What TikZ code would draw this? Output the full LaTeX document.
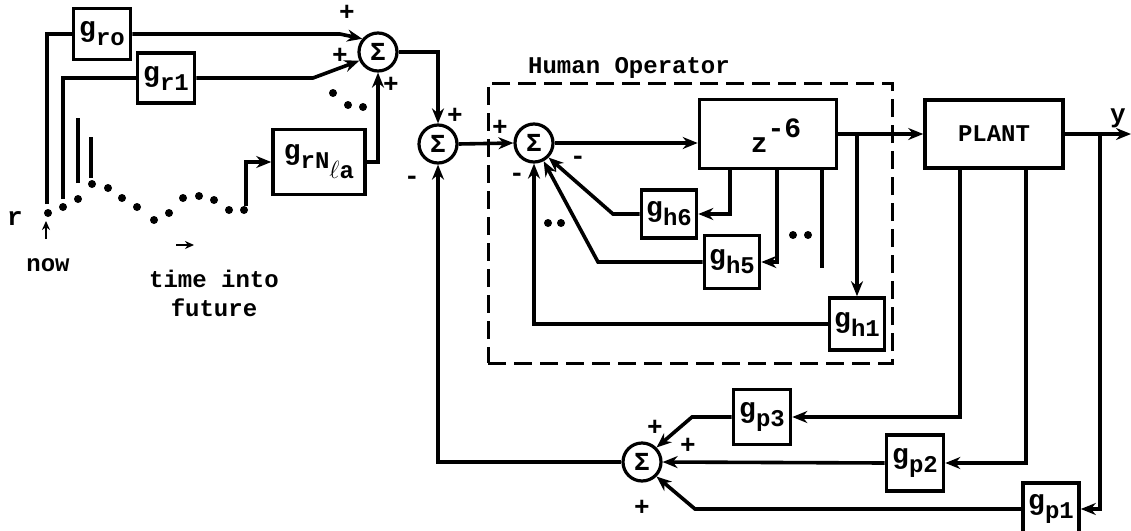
\documentclass[tikz,border=0pt]{standalone}
\usepackage{fontspec}
\setmainfont{Liberation Mono}
\usetikzlibrary{arrows.meta,calc}
\newcommand\gsub[1]{g\raisebox{-9pt}{\fontsize{24}{24}\selectfont #1}}
\begin{document}
\begin{tikzpicture}[x=1pt,y=-1pt,
  wire/.style={line width=3.6pt},
  arr/.style={wire,-{Stealth[length=15pt,width=12pt]}},
  thinarr/.style={line width=2.2pt,-{Stealth[length=9pt,width=8pt]}},
  blk/.style={draw,line width=3.6pt,inner sep=0pt,font=\fontsize{28}{28}\selectfont\bfseries},
  sumc/.style={draw,fill=white,circle,line width=3.2pt,minimum size=38pt,inner sep=0pt,font=\fontsize{26}{26}\selectfont\bfseries},
  txt/.style={font=\fontsize{24}{29}\selectfont\bfseries,inner sep=0pt,align=center},
  sgn/.style={font=\fontsize{26}{26}\selectfont\bfseries,inner sep=0pt},
  dot/.style={radius=4pt}
]
\useasboundingbox (0,0) rectangle (1131,530);

% human operator dashed frame
\node[draw,line width=3pt,dash pattern=on 18pt off 8pt,minimum width=404pt,minimum height=280pt,inner sep=0pt] (ho) at (690,223) {};
\node[txt] (holbl) at (629,68) {Human Operator};

% blocks
\node[blk,minimum width=57pt,minimum height=51pt] (gro) at (102,34) {\gsub{ro}};
\node[blk,minimum width=57pt,minimum height=50pt] (gr1) at (166,78) {\gsub{r1}};
\node[blk,minimum width=92pt,minimum height=65pt] (grN) at (319,162) {g\raisebox{-9pt}{\fontsize{24}{24}\selectfont rN\raisebox{-10pt}{$\ell$a}}};
\node[blk,minimum width=137pt,minimum height=69pt] (z) at (768,134) {};
\node[txt] (zlbl) at (776,136) {\fontsize{28}{28}\selectfont z\raisebox{15pt}{-6}};
\node[blk,minimum width=138pt,minimum height=68pt,font=\fontsize{24}{24}\selectfont\bfseries] (plant) at (994,134) {PLANT};
\node[blk,minimum width=55pt,minimum height=48pt] (gh6) at (669,214) {\gsub{h6}};
\node[blk,minimum width=55pt,minimum height=53pt] (gh5) at (732,262) {\gsub{h5}};
\node[blk,minimum width=55pt,minimum height=52pt] (gh1) at (857,324) {\gsub{h1}};
\node[blk,minimum width=57pt,minimum height=55pt] (gp3) at (762,417) {\gsub{p3}};
\node[blk,minimum width=57pt,minimum height=56pt] (gp2) at (915,463) {\gsub{p2}};
\node[blk,minimum width=56pt,minimum height=52pt] (gp1) at (1051,509) {\gsub{p1}};

% summing junctions
\node[sumc] (s1) at (378,52) {Σ};
\node[sumc] (s2) at (438,144) {Σ};
\node[sumc] (s3) at (534,143) {Σ};
\node[sumc] (s4) at (642,462) {Σ};

% preview samples of r
\foreach \p in {(48,213),(63,207),(78,199),(92,184),(108,188),(122,198),(137,207),(154,220),(169,213),(183,198),(199,196),(214,200),(229,210),(244,210)}
  \fill \p circle[dot];
\draw[wire] (78,183) -- (78,118);
\draw[wire] (91,178) -- (91,137);
\coordinate (r0) at (47,204);
\coordinate (r1) at (63,199);
\coordinate (rN) at (246,206);
\draw[wire] (r0) |- (gro.west);
\draw[wire] (r1) |- (gr1.west);
\draw[arr] (rN) |- (grN.west);

% into sigma 1
\draw[arr] (gro.east) -- (340,34) -- (s1.140);
\draw[arr] (gr1.east) -- (313,78) -- (s1.205);
\draw[arr] (grN.east) -| (s1.south);
\draw[arr] (s1.east) -| (s2.north);

% main chain
\draw[arr] (s2.east) -- (s3.west);
\draw[arr] (s3.east) -- (z.west |- s3.east);
\draw[arr] (z.east) -- (plant.west);
\coordinate (yend) at (1131,134);
\draw[arr] (plant.east) -- (yend);
\node[sgn] (ylbl) at (1118,118) {y};

% human operator inner feedback
\coordinate (b1) at (gh1.north |- z.east);
\draw[arr] (b1) -- (gh1.north);
\draw[arr] (730,168) |- (gh6.east);
\draw[arr] (777,168) |- (gh5.east);
\draw[wire] (822,168) -- (822,268);
\draw[arr] (gh6.west) -- (613,214) -- (s3.-45);
\draw[arr] (gh5.west) -- (598,262) -- (s3.-62);
\draw[arr] (gh1.west) -| (s3.south);

% plant feedback
\draw[arr] (960,168) |- (gp3.east);
\draw[arr] (1026,168) |- (gp2.east);
\coordinate (b2) at (1100,134);
\draw[arr] (b2) |- (gp1.east);
\draw[arr] (gp3.west) -- (692,417) -- (s4.45);
\draw[arr] (gp2.west) -- (s4.east);
\draw[arr] (gp1.west) -- (695,509) -- (s4.-45);
\draw[arr] (s4.west) -| (s2.south);

% signs
\node[sgn] (p1a) at (347,13) {+};
\node[sgn] (p1b) at (340,56) {+};
\node[sgn] (p1c) at (391,85) {+};
\node[sgn] (p2a) at (455,116) {+};
\node[sgn] (m2a) at (412,180) {-};
\node[sgn] (p3a) at (500,128) {+};
\node[sgn] (m3a) at (578,160) {-};
\node[sgn] (m3b) at (517,177) {-};
\node[sgn] (p4a) at (655,428) {+};
\node[sgn] (p4b) at (688,446) {+};
\node[sgn] (p4c) at (642,508) {+};

% ellipsis dots
\foreach \p in {(333,93),(348,105),(363,107),(548,223),(561,223),(793,235),(808,235)}
  \fill \p circle[dot];

% annotations
\node[sgn] (rlbl) at (15,219) {r};
\coordinate (na) at (46,239);
\coordinate (nb) at (46,221);
\draw[thinarr] (na) -- (nb);
\node[txt] (now) at (48,265) {now};
\coordinate (ta) at (176,245);
\coordinate (tb) at (194,245);
\draw[thinarr] (ta) -- (tb);
\node[txt] (tif) at (214,293) {time into\\future};
\end{tikzpicture}
\end{document}
